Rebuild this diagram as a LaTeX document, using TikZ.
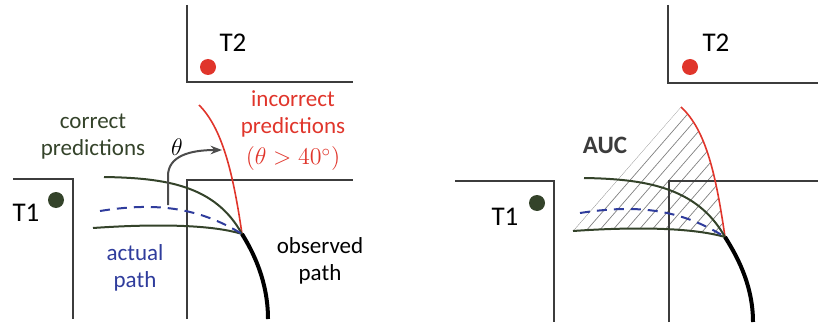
\documentclass[tikz,border=0pt]{standalone}
\usepackage{fontspec}
\setmainfont{Carlito}
\usetikzlibrary{arrows.meta, positioning}
\definecolor{wallgray}{HTML}{3C3C3C}
\definecolor{predgreen}{HTML}{34432A}
\definecolor{predred}{HTML}{E0352B}
\definecolor{pathblue}{HTML}{2F3C9C}
\tikzstyle{wall} = [wallgray, line width=1pt]
\tikzstyle{good} = [predgreen, line width=1pt]
\tikzstyle{bad} = [predred, line width=0.8pt]
\tikzstyle{actual} = [pathblue, line width=1pt, dash pattern=on 5pt off 3.5pt]
\tikzstyle{observed} = [black, line width=2pt]
\tikzstyle{hatch} = [gray, line width=0.35pt]
\tikzstyle{dot} = [circle, inner sep=0pt, minimum size=8pt]
\tikzstyle{lbl} = [font=\fontsize{11.5}{13.5}\selectfont, align=center, inner sep=0pt]
\tikzstyle{tlbl} = [font=\fontsize{13.5}{15}\selectfont, inner sep=0pt]
\tikzstyle{turn} = [gray!60!black, line width=1pt, -{Stealth[length=2mm]}]

\begin{document}
\begin{tikzpicture}[x=0.5pt, y=-0.5pt]
    \useasboundingbox (0,0) rectangle (818,326);
    % left: walls and targets
    \draw[wall] (187,5) -- (187,82) -- (353,82);
    \draw[wall] (13,179) -- (73,179) -- (73,319);
    \draw[wall] (187,319) -- (187,180) -- (353,180);
    \node[dot, fill=predred] (t2L) at (208,67) {};
    \node[tlbl] (t2Llbl) at (233,43) {T2};
    \node[dot, fill=predgreen] (t1L) at (56,200) {};
    \node[tlbl] (t1Llbl) at (26,213) {T1};
    % left: paths
    \coordinate (jL) at (242,234);
    \draw[bad] (199,105) .. controls (222,128) and (233,172) .. (jL);
    \draw[good] (104,177) .. controls (165,178) and (215,185) .. (jL);
    \draw[good] (93,228) .. controls (150,224) and (210,224) .. (jL);
    \draw[actual] (100,211) .. controls (150,203) and (195,205) .. (jL);
    \draw[observed] (jL) .. controls (252,250) and (268,280) .. (268,319);
    \coordinate (th0) at (168,205);
    \coordinate (th1) at (222,150);
    \draw[turn] (th0) -- (168,176) .. controls (168,156) and (190,150) .. (th1);
    \node[lbl] (theta) at (177,147) {$\theta$};
    \node[lbl, text=predgreen] (corr) at (93,137) {correct\\predictions};
    \node[lbl, text=predred] (incorr) at (293,131) {incorrect\\predictions\\[2pt]$(\theta > 40^{\circ})$};
    \node[lbl, text=pathblue] (act) at (135,268) {actual\\path};
    \node[lbl] (obs) at (320,261) {observed\\path};
    % right: area under curve
    \coordinate (jR) at (725,237);
    \begin{scope}
      \clip (573,231) -- (681,107) .. controls (706,130) and (716,175) .. (jR)
        .. controls (690,227) and (630,227) .. (573,231);
      \foreach \i in {539,552,...,800}
        \draw[hatch] (\i,270) -- ++(160,-184);
    \end{scope}
    \draw[wall] (668,5) -- (668,83) -- (818,83);
    \draw[wall] (455,181) -- (554,181) -- (554,322);
    \draw[wall] (669,322) -- (669,181) -- (818,181);
    \node[dot, fill=predred] (t2R) at (690,67) {};
    \node[tlbl] (t2Rlbl) at (716,43) {T2};
    \node[dot, fill=predgreen] (t1R) at (537,203) {};
    \node[tlbl] (t1Rlbl) at (505,217) {T1};
    \draw[bad] (681,107) .. controls (706,130) and (716,175) .. (jR);
    \draw[good] (584,178) .. controls (645,179) and (697,187) .. (jR);
    \draw[good] (573,231) .. controls (630,227) and (690,227) .. (jR);
    \draw[actual] (580,213) .. controls (632,205) and (677,207) .. (jR);
    \draw[observed] (jR) .. controls (735,253) and (753,283) .. (753,322);
    \node[lbl, font=\fontsize{12.5}{14}\selectfont\bfseries, text=wallgray] (auc) at (605,145) {AUC};
\end{tikzpicture}
\end{document}
